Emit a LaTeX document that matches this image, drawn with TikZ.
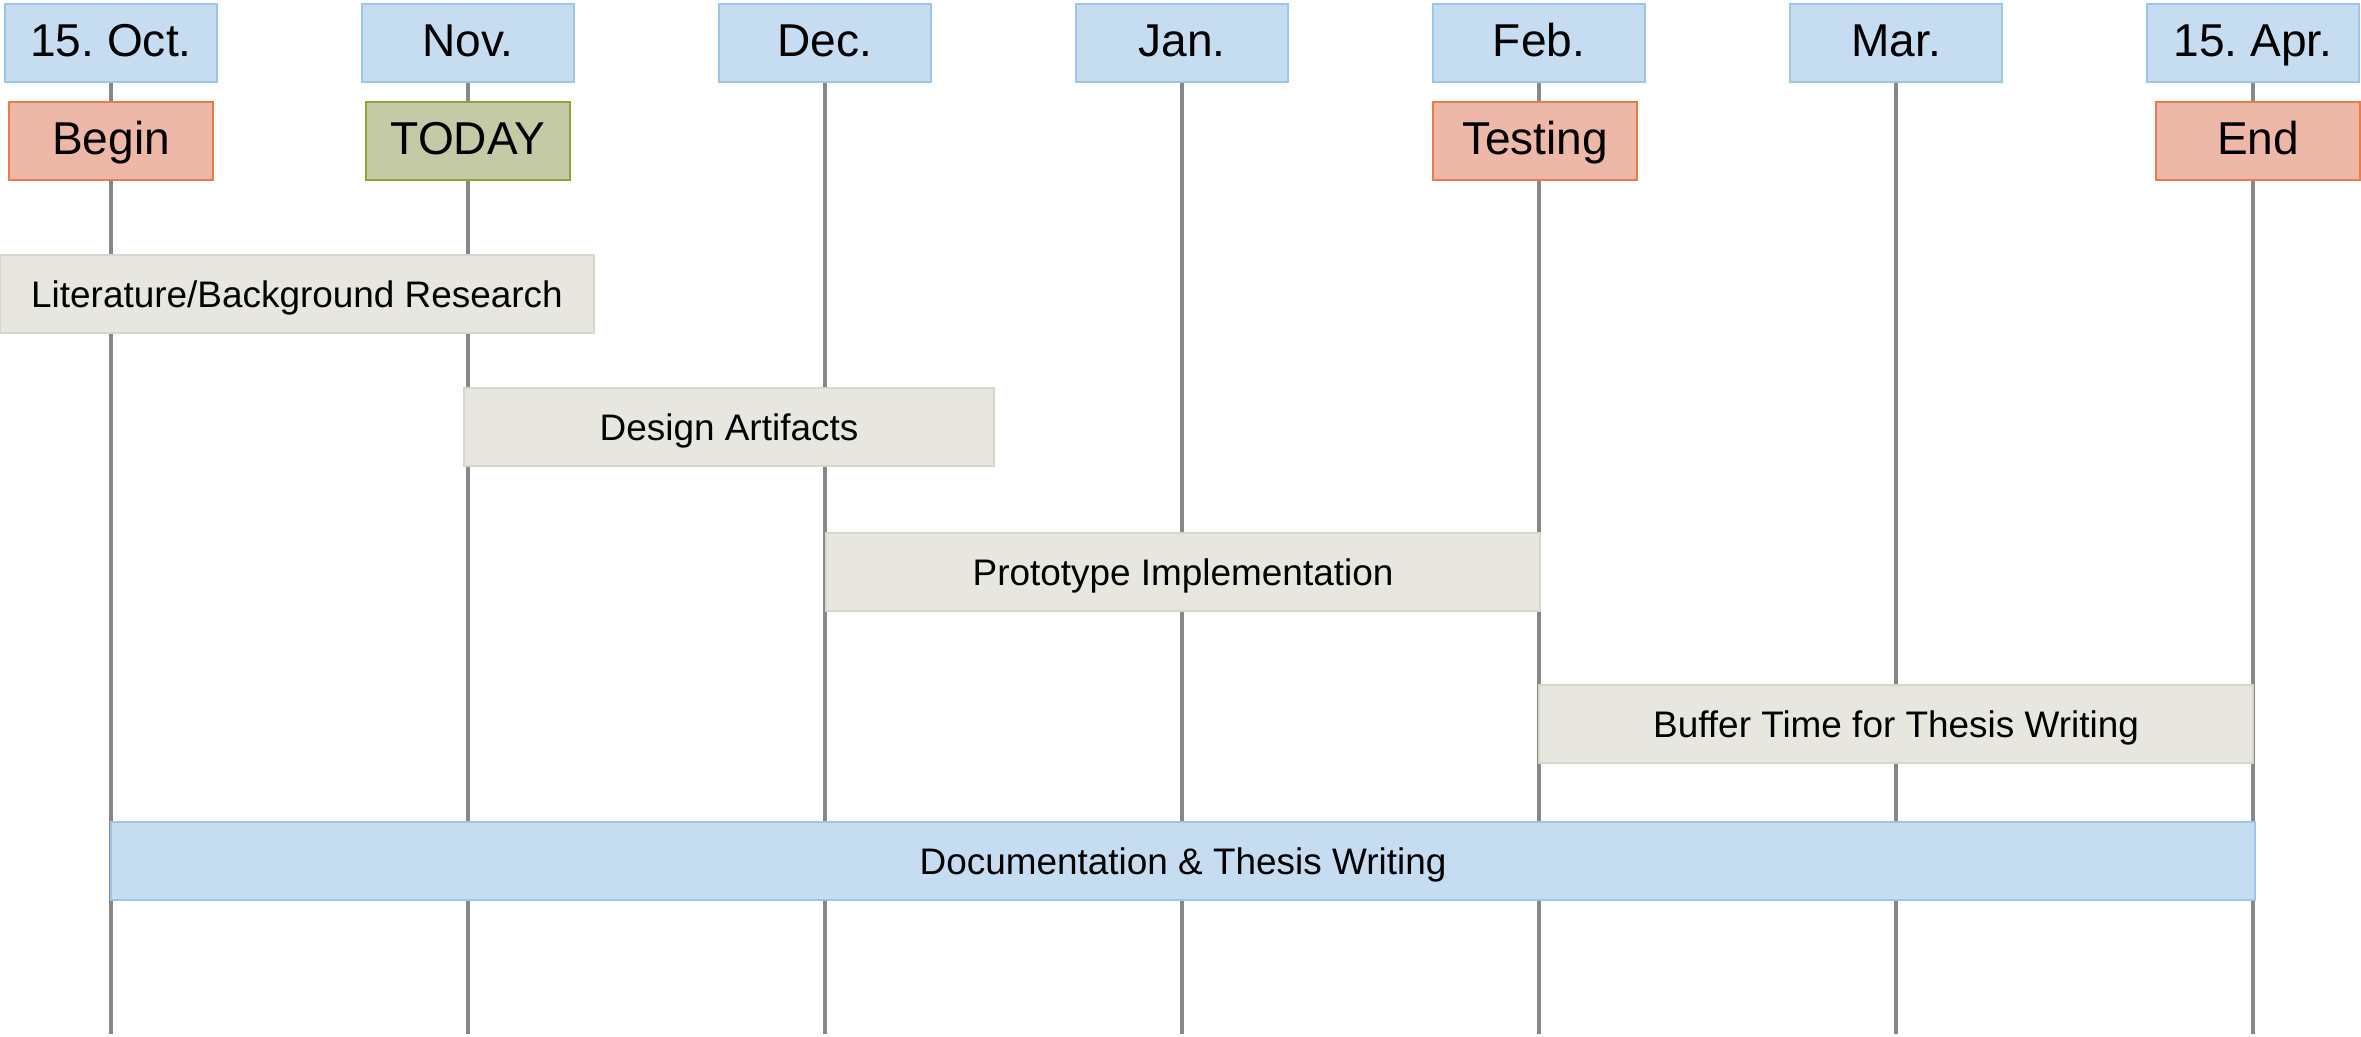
\documentclass[tikz,border=0pt]{standalone}
\usepackage{fontspec}
\setmainfont{Liberation Sans}
\usetikzlibrary{positioning}
\frenchspacing

\definecolor{monthfill}{HTML}{C5DCF1}
\definecolor{monthedge}{HTML}{9DC5E8}
\definecolor{eventfill}{HTML}{EEB8A8}
\definecolor{eventedge}{HTML}{E97C4A}
\definecolor{todayfill}{HTML}{C3CAA5}
\definecolor{todayedge}{HTML}{8FA635}
\definecolor{taskfill}{HTML}{E7E6DF}
\definecolor{taskedge}{HTML}{D8D6CA}
\definecolor{gridgray}{HTML}{878787}

\begin{document}
\begin{tikzpicture}[x=0.01cm, y=-0.01cm, node distance=0.18cm,
    box/.style={draw, line width=0.6pt, minimum height=0.78cm, inner sep=0pt,
      text height=0.85em, text depth=0.07em},
    month/.style={box, draw=monthedge, fill=monthfill, minimum width=2.12cm, font=\fontsize{13.1}{15}\selectfont},
    event/.style={box, draw=eventedge, fill=eventfill, minimum width=2.04cm, font=\fontsize{13.1}{15}\selectfont},
    task/.style={box, draw=taskedge, fill=taskfill, font=\fontsize{10.5}{13}\selectfont},
    timeline/.style={draw=gridgray, line width=0.95pt}]
  \useasboundingbox (0,0) rectangle (2361,1036);
  \coordinate (bottom) at (0,1034);

  % month heads, one every 357 units, with their lines down to the bottom
  \foreach \m/\lbl [count=\i from 0] in {oct/15. Oct., nov/Nov., dec/Dec., jan/Jan., feb/Feb., mar/Mar., apr/15. Apr.}
    \node[month] (\m) at ({111+357*\i},43) {\lbl};
  \foreach \m in {oct,nov,dec,jan,feb,mar,apr}
    \draw[timeline] (\m.south) -- (\m.south |- bottom);

  % milestones
  \node[event, below=of oct] (begin) {Begin};
  \node[event, draw=todayedge, fill=todayfill, below=of nov] (today) {TODAY};
  \node[event, below=of feb, xshift=-0.04cm] (testing) {Testing};
  \node[event, below=of apr, xshift=0.05cm] (end) {End};

  % work packages
  \node[task, minimum width=5.93cm] (lit) at (297,294) {Literature/Background Research};
  \node[task, minimum width=5.29cm] (design) at (729,427) {Design Artifacts};
  \node[task, minimum width=7.13cm] (proto) at (1183,572) {Prototype Implementation};
  \node[task, minimum width=7.14cm] (buffer) at (1896,724) {Buffer Time for Thesis Writing};
  \node[task, draw=monthedge, fill=monthfill, minimum width=21.43cm] (doc) at (1183,861) {Documentation \& Thesis Writing};
\end{tikzpicture}
\end{document}
